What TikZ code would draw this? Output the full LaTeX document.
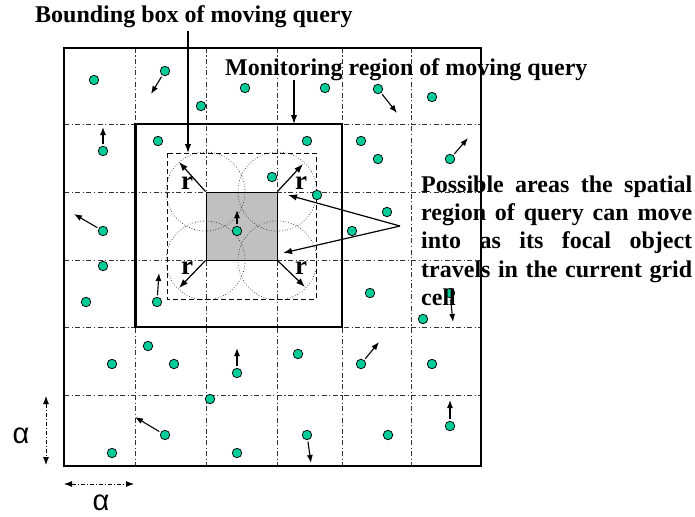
\documentclass[tikz,border=0pt]{standalone}
\usepackage{fontspec}
\setmainfont{Liberation Serif}
\newfontfamily\greekfont{Liberation Sans}
\usetikzlibrary{arrows.meta}
\definecolor{dotgreen}{RGB}{0,204,153}
\definecolor{cellgray}{RGB}{192,192,192}

\begin{document}
\begin{tikzpicture}[x=1pt,y=-1pt,
  gridline/.style={line width=0.8pt, black!80, dash pattern=on 5pt off 2.5pt on 1.2pt off 2.5pt},
  obj/.style={circle, draw=black, line width=0.75pt, fill=dotgreen, minimum size=9.5pt, inner sep=0pt},
  motion/.style={line width=1.1pt, shorten <=1.5pt, -{Latex[length=8pt,width=6pt]}},
  callout/.style={line width=1.2pt, -{Latex[length=9pt,width=6.5pt]}},
  lbl/.style={font=\bfseries\fontsize{24}{28.3}\selectfont, inner sep=0pt},
  rlbl/.style={font=\bfseries\fontsize{27}{30}\selectfont, inner sep=0pt},
  greeklbl/.style={font=\greekfont\fontsize{29}{32}\selectfont, inner sep=0pt, anchor=base},
  reach/.style={dotted, line width=0.7pt, black!80},
  extent/.style={line width=0.9pt, dash pattern=on 4pt off 2pt on 1pt off 2pt,
    {Latex[length=8pt,width=6pt]}-{Latex[length=8pt,width=6pt]}},
]
\useasboundingbox (0,0) rectangle (695,516);

% grid of cells
\foreach \x in {135,206,277,342,411} \draw[gridline] (\x,48) -- (\x,466);
\foreach \y in {124,192,260,327,395} \draw[gridline] (64,\y) -- (481,\y);

% current grid cell of the focal object
\node[draw, fill=cellgray, line width=0.9pt, minimum width=71pt, minimum height=68pt, inner sep=0pt] (cell) at (241.5,226) {};

% reach circles of radius r around the cell corners
\foreach \c in {north west, north east, south west, south east}
  \draw[reach] (cell.\c) circle[radius=39.5];

% bounding box of the moving query
\draw[line width=1pt, dash pattern=on 5pt off 3pt] (167,153) rectangle (316,299);
% monitoring region
\draw[line width=2.4pt] (135.5,124) rectangle (342,327);
% outer frame
\draw[line width=1.3pt] (64,48) rectangle (481,466);

% radius arrows
\coordinate (rTL) at (179,162);
\coordinate (rTR) at (303,164);
\coordinate (rBL) at (179,288);
\coordinate (rBR) at (305,287);
\draw[callout] (cell.north west) -- (rTL);
\draw[callout] (cell.north east) -- (rTR);
\draw[callout] (cell.south west) -- (rBL);
\draw[callout] (cell.south east) -- (rBR);
\node[rlbl, anchor=base] (lrTL) at (187,189) {r};
\node[rlbl, anchor=base] (lrTR) at (301,189) {r};
\node[rlbl, anchor=base] (lrBL) at (187,274) {r};
\node[rlbl, anchor=base] (lrBR) at (301,274) {r};

% moving objects
\node[obj] (o1) at (94,80) {};
\node[obj] (o2) at (165,71) {};
\node[obj] (o3) at (201,106) {};
\node[obj] (o4) at (245,88) {};
\node[obj] (o5) at (325,88) {};
\node[obj] (o6) at (378,89) {};
\node[obj] (o7) at (432,97) {};
\node[obj] (o8) at (103,151) {};
\node[obj] (o9) at (158,141) {};
\node[obj] (o10) at (307,141) {};
\node[obj] (o11) at (361,141) {};
\node[obj] (o12) at (378,159) {};
\node[obj] (o13) at (450,159) {};
\node[obj] (o14) at (272,177) {};
\node[obj] (o15) at (317,195) {};
\node[obj] (o16) at (387,212) {};
\node[obj] (o17) at (352,231) {};
\node[obj] (o18) at (237,231) {};
\node[obj] (o19) at (103,231) {};
\node[obj] (o20) at (103,266) {};
\node[obj] (o21) at (86,302) {};
\node[obj] (o22) at (157,302) {};
\node[obj] (o23) at (370,293) {};
\node[obj] (o24) at (450,293) {};
\node[obj] (o25) at (423,319) {};
\node[obj] (o26) at (148,346) {};
\node[obj] (o27) at (112,364) {};
\node[obj] (o28) at (174,364) {};
\node[obj] (o29) at (237,373) {};
\node[obj] (o30) at (298,354) {};
\node[obj] (o31) at (361,364) {};
\node[obj] (o32) at (432,364) {};
\node[obj] (o33) at (210,399) {};
\node[obj] (o34) at (165,435) {};
\node[obj] (o35) at (112,453) {};
\node[obj] (o36) at (237,453) {};
\node[obj] (o37) at (307,435) {};
\node[obj] (o38) at (388,435) {};
\node[obj] (o39) at (450,426) {};

% directions of movement
\coordinate (m2) at (151,94);
\coordinate (m6) at (397,113);
\coordinate (m8) at (103,127);
\coordinate (m13) at (468,138);
\coordinate (m18) at (237,210);
\coordinate (m19) at (74,214);
\coordinate (m22) at (159,273);
\coordinate (m24) at (453,322);
\coordinate (m29) at (237,348);
\coordinate (m31) at (379,342);
\coordinate (m34) at (135,417);
\coordinate (m37) at (311,463);
\coordinate (m39) at (450,400);
\foreach \o in {2,6,8,13,18,19,22,24,29,31,34,37,39}
  \draw[motion] (o\o) -- (m\o);

% labels with their pointers
\node[lbl, anchor=base west] (bblbl) at (35,23) {Bounding box of moving query};
\coordinate (bbfrom) at (188,31);
\coordinate (bbtip) at (188,153);
\draw[callout] (bbfrom) -- (bbtip);

\node[lbl, anchor=base west] (monlbl) at (225,76) {Monitoring region of moving query};
\coordinate (monfrom) at (294,80);
\coordinate (montip) at (294,124);
\draw[callout] (monfrom) -- (montip);

\node[lbl, anchor=base west] (pa1) at (421,192.3) {\makebox[271pt][s]{Possible areas the spatial}};
\node[lbl, anchor=base west] (pa2) at (421,220.3) {\makebox[271pt][s]{region of query can move}};
\node[lbl, anchor=base west] (pa3) at (421,248.5) {\makebox[271pt][s]{into as its focal object}};
\node[lbl, anchor=base west] (pa4) at (421,277) {\makebox[271pt][s]{travels in the current grid}};
\node[lbl, anchor=base west] (pa5) at (421,305.5) {cell};
\coordinate (pafrom) at (400,226);
\coordinate (patop) at (288,195);
\coordinate (pabot) at (283,253);
\draw[callout] (pafrom) -- (patop);
\draw[callout] (pafrom) -- (pabot);

% cell size markers
\coordinate (avtop) at (46,396);
\coordinate (avbot) at (46,465);
\draw[extent] (avtop) -- (avbot);
\node[greeklbl] (av) at (21,443.5) {α};
\coordinate (ahl) at (64,484);
\coordinate (ahr) at (134,484);
\draw[extent] (ahl) -- (ahr);
\node[greeklbl] (ah) at (101,510.5) {α};
\end{tikzpicture}
\end{document}
